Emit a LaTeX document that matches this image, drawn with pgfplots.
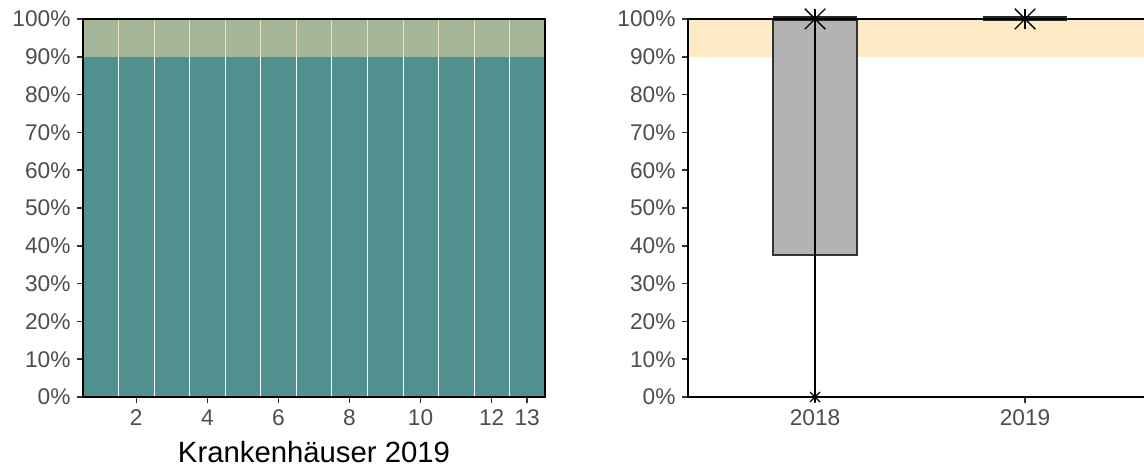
\documentclass[border=0pt]{standalone}
\usepackage{fontspec}
\setmainfont{Liberation Sans}
\usepackage{pgfplots}
\pgfplotsset{compat=1.18}
\definecolor{tealbar}{RGB}{80,145,143}
\definecolor{bandover}{RGB}{223,208,158}
\definecolor{bandyel}{RGB}{254,235,198}
\definecolor{boxgray}{RGB}{179,179,179}
\definecolor{boxedge}{RGB}{51,51,51}
\definecolor{ticklab}{RGB}{77,77,77}
\definecolor{tickcol}{RGB}{51,51,51}
\begin{document}
\begin{tikzpicture}
\useasboundingbox (0pt,0pt) rectangle (1144pt,468pt);
\pgfplotsset{
  common/.style={
    anchor=south west, scale only axis, height=378pt,
    ymin=0, ymax=100, ytick={0,10,...,100},
    yticklabel={\pgfmathprintnumber{\tick}\%},
    /pgf/number format/assume math mode=true,
    tick align=outside, major tick length=6pt,
    tick style={tickcol, line width=1.5pt},
    axis line style={black, line width=2.2pt},
    ticklabel style={font=\fontsize{22.7}{26}\selectfont, color=ticklab},
    axis on top,
    xtick pos=bottom, ytick pos=left,
    yticklabel style={xshift=-3pt},
    xticklabel style={yshift=-3pt},
  }
}
\begin{axis}[common, at={(83pt,71pt)}, width=462pt,
  xmin=0.5, xmax=13.5, xtick={2,4,6,8,10,12,13},
  xlabel={Krankenhäuser 2019},
  xlabel style={font=\fontsize{29.3}{33}\selectfont, color=black, yshift=-9pt},
]
\addplot[ybar, bar width=1, fill=tealbar, draw=white, line width=0.6pt]
  coordinates {(1,100) (2,100) (3,100) (4,100) (5,100) (6,100) (7,100)
               (8,100) (9,100) (10,100) (11,100) (12,100) (13,100)};
\addplot[fill=bandover, fill opacity=0.6, draw=none]
  coordinates {(0.5,90) (13.5,90) (13.5,100) (0.5,100)} -- cycle;
\end{axis}
\begin{axis}[common, at={(688pt,71pt)}, width=470pt, clip=false,
  xmin=0.3952, xmax=2.6333, xtick={1,2}, xticklabels={2018,2019},
]
\addplot[fill=bandyel, draw=none]
  coordinates {(0.3952,90) (2.6333,90) (2.6333,100) (0.3952,100)} -- cycle;
% 2018 box: lower quartile 37.5, upper quartile 100
\addplot[fill=boxgray, draw=boxedge, line width=1.5pt]
  coordinates {(0.8,37.5) (1.2,37.5) (1.2,100) (0.8,100)} -- cycle;
% range
\addplot[black, line width=2pt] coordinates {(1,0) (1,100)};
% medians
\addplot[black!85, line width=5pt] coordinates {(0.8,100) (1.2,100)};
\addplot[black!85, line width=5pt] coordinates {(1.8,100) (2.2,100)};
\addplot[only marks, mark=x, mark size=14.5pt, black, line width=1.4pt]
  coordinates {(1,100) (2,100)};
\addplot[only marks, mark=+, mark size=10pt, black, line width=1.4pt]
  coordinates {(1,100) (2,100)};
\addplot[only marks, mark=x, mark size=7pt, black, line width=1.1pt]
  coordinates {(1,0)};
\addplot[only marks, mark=+, mark size=5pt, black, line width=1.1pt]
  coordinates {(1,0)};
\end{axis}
\end{tikzpicture}
\end{document}
